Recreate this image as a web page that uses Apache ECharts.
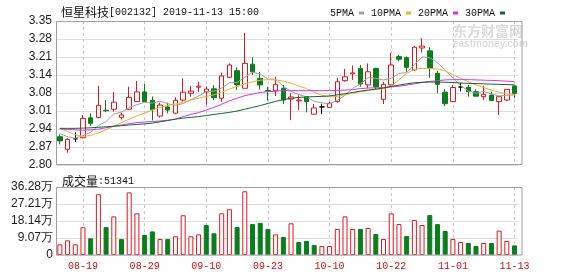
<!DOCTYPE html>
<html>
<head>
<meta charset="utf-8">
<script src="https://cdn.jsdelivr.net/npm/echarts@6/dist/echarts.min.js"></script>
<style>
html, body { margin: 0; padding: 0; background: #fff; }
#chart { width: 578px; height: 276px; }
</style>
</head>
<body>
<div id="chart"></div>
<script>
var dates = ['08-14','08-15','08-16','08-19','08-20','08-21','08-22','08-23','08-26','08-27','08-28','08-29','08-30',
	'09-02','09-03','09-04','09-05','09-06','09-09','09-10','09-11','09-12','09-16','09-17','09-18','09-19','09-20','09-23','09-24','09-25','09-26','09-27','09-30',
	'10-08','10-09','10-10','10-11','10-14','10-15','10-16','10-17','10-18','10-21','10-22','10-23','10-24','10-25','10-28','10-29','10-30','10-31',
	'11-01','11-04','11-05','11-06','11-07','11-08','11-11','11-12','11-13'];

var opens  = [2.908,2.860,2.900,2.904,2.980,2.982,3.009,3.013,2.982,3.013, 3.042,3.079,3.047,2.987,3.022,2.998,3.048,3.074,3.097,3.079,
	3.091,3.055,3.135,3.160,3.093,3.185,3.131,3.085,3.084,3.093, 3.052,3.045,3.061,2.994,3.022,3.020,3.042,3.122,3.148,3.169,
	3.106,3.169,3.051,3.106,3.214,3.210,3.163,3.247,3.236,3.150, 3.078,3.042,3.098,3.097,3.080,3.061,3.067,3.042,3.048,3.102];
var closes = [2.892,2.898,2.900,2.978,2.959,3.028,3.007,3.040,2.991,3.058, 3.079,3.042,3.012,3.029,3.010,3.047,3.078,3.082,3.101,3.090,
	3.058,3.140,3.182,3.106,3.188,3.156,3.106,3.082,3.108,3.048, 3.060,3.048,3.042,3.018,3.022,3.036,3.118,3.137,3.152,3.109,
	3.156,3.099,3.108,3.182,3.204,3.173,3.250,3.254,3.170,3.108, 3.034,3.096,3.098,3.080,3.063,3.070,3.046,3.061,3.089,3.074];
var lows   = [2.879,2.847,2.888,2.902,2.949,2.978,3.002,3.004,2.974,3.010, 3.042,3.040,2.970,2.981,2.997,2.994,3.042,3.061,3.080,3.030,
	3.048,3.042,3.133,3.087,3.093,3.144,3.089,3.046,3.064,3.033, 2.972,3.010,3.001,2.994,2.994,3.018,3.038,3.118,3.125,3.099,
	3.093,3.090,3.033,3.099,3.196,3.156,3.160,3.229,3.133,3.074, 3.025,3.040,3.081,3.061,3.061,3.048,3.044,2.991,3.044,3.055];
var highs  = [2.917,2.902,2.925,2.991,2.997,3.102,3.048,3.078,3.000,3.099, 3.121,3.109,3.062,3.038,3.038,3.059,3.131,3.102,3.118,3.100,
	3.105,3.153,3.188,3.173,3.305,3.211,3.156,3.099,3.137,3.106, 3.074,3.066,3.063,3.033,3.034,3.042,3.133,3.167,3.180,3.182,
	3.188,3.171,3.118,3.229,3.220,3.214,3.254,3.284,3.250,3.160, 3.090,3.106,3.114,3.106,3.089,3.102,3.080,3.061,3.089,3.104];

var ma5  = [2.920,2.908,2.902,2.912,2.925,2.950,2.966,2.995,3.002,3.020, 3.030,3.040,3.036,3.044,3.034,3.028,3.035,3.049,3.064,3.080,
	3.082,3.094,3.114,3.115,3.135,3.154,3.148,3.128,3.128,3.100, 3.081,3.069,3.061,3.043,3.038,3.033,3.047,3.066,3.093,3.110,
	3.134,3.131,3.125,3.131,3.150,3.153,3.183,3.213,3.210,3.191, 3.163,3.132,3.103,3.083,3.074,3.081,3.071,3.064,3.066,3.068];
var ma10 = [2.940,2.928,2.916,2.909,2.913,2.922,2.935,2.948,2.962,2.975, 2.988,2.998,3.010,3.020,3.027,3.033,3.040,3.048,3.055,3.062,
	3.068,3.078,3.090,3.100,3.110,3.118,3.124,3.126,3.125,3.120, 3.112,3.102,3.092,3.078,3.066,3.060,3.062,3.068,3.075,3.080,
	3.084,3.088,3.092,3.102,3.125,3.150,3.165,3.169,3.169,3.167, 3.160,3.145,3.132,3.118,3.106,3.096,3.086,3.078,3.072,3.068];
var ma20 = [2.938,2.936,2.934,2.933,2.934,2.937,2.942,2.948,2.953,2.958, 2.962,2.964,2.966,2.968,2.971,2.975,2.985,2.993,3.000,3.010,
	3.020,3.032,3.045,3.055,3.065,3.071,3.077,3.080,3.082,3.084, 3.084,3.084,3.084,3.084,3.084,3.084,3.085,3.086,3.088,3.092,
	3.094,3.095,3.096,3.098,3.101,3.105,3.110,3.115,3.119,3.122, 3.125,3.126,3.126,3.126,3.125,3.124,3.123,3.122,3.120,3.118];
var ma30 = [2.940,2.940,2.940,2.941,2.942,2.944,2.946,2.948,2.950,2.953, 2.955,2.957,2.960,2.965,2.970,2.975,2.979,2.982,2.985,2.989,
	2.993,2.997,3.001,3.006,3.013,3.020,3.027,3.035,3.043,3.050, 3.055,3.058,3.060,3.061,3.062,3.064,3.068,3.072,3.077,3.082,
	3.086,3.090,3.094,3.100,3.105,3.110,3.114,3.116,3.117,3.117, 3.116,3.115,3.113,3.112,3.111,3.110,3.109,3.108,3.107,3.106];

var volumes = [57000,78000,57000,148000,89000,324000,149000,206000,85000,334000, 222000,107000,126000,85000,85000,100000,212000,100000,110000,160000,
	116000,222000,244000,149000,340000,165000,171000,139000,110000,96000, 169000,69000,75000,53000,48000,48000,139000,206000,139000,139000,
	144000,112000,85000,222000,165000,101000,187000,160000,213000,165000, 128000,85000,69000,64000,48000,64000,64000,130000,75000,51341];
// 1 = red (up), 0 = green (down), as coloured in the volume panel
var volUp = [1,1,1,1,0,1,0,1,0,1, 1,0,0,1,0,1,1,1,1,0, 0,1,1,0,1,0,0,0,1,0,
	1,0,0,0,1,1,1,1,1,0, 1,0,1,1,1,0,1,1,0,0, 0,1,1,0,0,1,0,1,1,0];

var priceTicks = ['2.80','2.87','2.94','3.01','3.08','3.14','3.21','3.28','3.35'];
var volTicks = ['0','9.07万','18.14万','27.21万','36.28万'];
var maNames = ['5PMA','10PMA','20PMA','30PMA'];

var RED = '#e3141c';
var GREEN = '#0b7d1e';
var maColors = ['#a0a0a0', '#f0b030', '#e030e0', '#0c6a2c'];

var chart = echarts.init(document.getElementById('chart'));

var candleData = [];
for (var i = 0; i < dates.length; i++) {
	candleData.push([opens[i], closes[i], lows[i], highs[i]]);
}
var volData = volumes.map(function (v, i) {
	return {
		value: v,
		itemStyle: volUp[i] ? { color: '#fff', borderColor: RED, borderWidth: 1 }
			: { color: GREEN, borderColor: GREEN, borderWidth: 1 }
	};
});

function showIdx(idx) { return idx % 8 === 3; }

var xCommon = {
	type: 'category',
	data: dates,
	boundaryGap: true,
	axisLine: { show: false },
	axisTick: { show: false },
	splitLine: {
		show: true,
		interval: function (idx) { return showIdx(idx); },
		alignWithLabel: true,
		lineStyle: { color: '#c8c8c8', type: [3, 3], width: 1 }
	}
};

var richText = {
	a: { fontFamily: 'Noto Sans CJK SC', fontSize: 12, fontWeight: 'normal', color: '#111' },
	b: { fontFamily: 'Liberation Mono', fontSize: 10, fontWeight: 'normal', color: '#111' }
};

var option = {
	animation: false,
	backgroundColor: '#fff',
	title: [{
		left: 56, top: 1,
		text: '{a|恒星科技}{b|[002132] 2019-11-13 15:00}',
		textStyle: { fontWeight: 'normal', rich: richText }
	}, {
		left: 57, top: 170,
		text: '{a|成交量}{b|:51341}',
		textStyle: { fontWeight: 'normal', rich: richText }
	}],
	legend: {
		right: 68, top: 3,
		icon: 'rect',
		itemWidth: 5, itemHeight: 3, itemGap: 7,
		align: 'right',
		textStyle: { fontFamily: 'Liberation Mono', fontSize: 10, color: '#111' },
		data: maNames
	},
	grid: [
		{ left: 56, top: 21, width: 462.4, height: 144 },
		{ left: 56, top: 187, width: 462.4, height: 68 }
	],
	xAxis: [
		echarts.util.merge({ gridIndex: 0, axisLabel: { show: false } }, xCommon, true),
		echarts.util.merge({
			gridIndex: 1,
			axisLabel: {
				show: true,
				interval: function (idx) { return showIdx(idx); },
				color: '#d01010',
				fontFamily: 'Liberation Mono',
				fontSize: 10,
				margin: 6
			}
		}, xCommon, true)
	],
	yAxis: [{
		gridIndex: 0,
		min: 2.80, max: 3.35, interval: 0.06875,
		axisLine: { show: false },
		axisTick: { show: false },
		axisLabel: {
			color: '#222', fontFamily: 'Liberation Sans', fontSize: 12, margin: 4,
			formatter: function (v) { return priceTicks[Math.round((v - 2.80) / 0.06875)]; }
		},
		splitLine: { lineStyle: { color: '#dedede' } }
	}, {
		gridIndex: 1,
		min: 0, max: 362800, interval: 90700,
		axisLine: { show: false },
		axisTick: { show: false },
		axisLabel: {
			color: '#222', fontFamily: 'Liberation Sans', fontSize: 12, margin: 3,
			formatter: function (v) { return volTicks[Math.round(v / 90700)]; }
		},
		splitLine: { lineStyle: { color: '#dedede' } }
	}],
	series: [{
		type: 'candlestick',
		xAxisIndex: 0, yAxisIndex: 0,
		barWidth: 5,
		data: candleData,
		itemStyle: {
			color: '#fff', color0: GREEN,
			borderColor: RED, borderColor0: GREEN,
			borderColorDoji: '#000',
			borderWidth: 1
		}
	}].concat([ma5, ma10, ma20, ma30].map(function (arr, k) {
		return {
			name: maNames[k],
			type: 'line',
			xAxisIndex: 0, yAxisIndex: 0,
			data: arr,
			showSymbol: false,
			symbol: 'none',
			color: maColors[k],
			lineStyle: { width: 1, color: maColors[k] },
			z: 3
		};
	})).concat([{
		type: 'bar',
		xAxisIndex: 1, yAxisIndex: 1,
		barWidth: 5,
		data: volData
	}]),
	graphic: [
		{ type: 'rect', silent: true, z: 100, shape: { x: 56.5, y: 21.5, width: 465.5, height: 143 },
			style: { fill: 'none', stroke: '#a0a0a0', lineWidth: 1 } },
		{ type: 'rect', silent: true, z: 100, shape: { x: 56.5, y: 187.5, width: 465.5, height: 67.5 },
			style: { fill: 'none', stroke: '#a0a0a0', lineWidth: 1 } },
		{ type: 'text', silent: true, z: 0, left: 453, top: 24,
			style: { text: '东方财富网', fill: 'rgba(190,190,190,0.55)', font: 'bold 14px "Noto Sans CJK SC"' } },
		{ type: 'text', silent: true, z: 0, left: 453, top: 39,
			style: { text: 'eastmoney.com', fill: 'rgba(190,190,190,0.55)', font: 'bold 10px "Liberation Sans"' } }
	]
};

chart.setOption(option);
</script>
</body>
</html>
